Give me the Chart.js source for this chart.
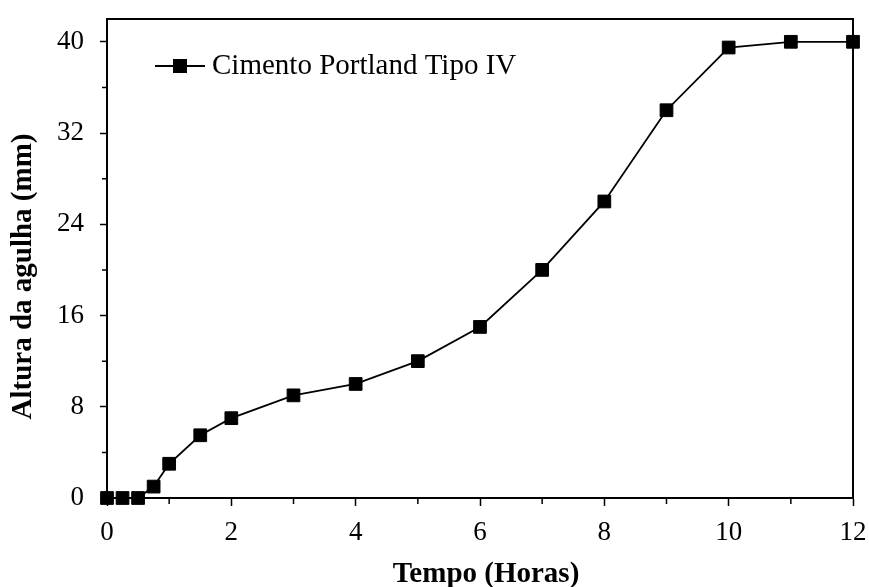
<!DOCTYPE html>
<html>
<head>
<meta charset="utf-8">
<script src="https://cdn.jsdelivr.net/npm/chart.js@4/dist/chart.umd.min.js"></script>
<style>
  html, body { margin: 0; padding: 0; background: #ffffff; }
  #wrap { width: 869px; height: 587px; }
</style>
</head>
<body>
<div id="wrap"><canvas id="chart" width="869" height="587"></canvas></div>
<script>
// Setting-time test: needle penetration height over time
const hours = [0, 0.25, 0.5, 0.75, 1, 1.5, 2, 3, 4, 5, 6, 7, 8, 9, 10, 11, 12];
const needleHeight = [0, 0, 0, 1, 3, 5.5, 7, 9, 10, 12, 15, 20, 26, 34, 39.5, 40, 40];
const xTickValues = [0, 2, 4, 6, 8, 10, 12];
const yTickValues = [0, 8, 16, 24, 32, 40];
const seriesName = 'Cimento Portland Tipo IV';
const xTitle = 'Tempo (Horas)';
const yTitle = 'Altura da agulha (mm)';

const SERIF = "'Liberation Serif', 'Times New Roman', Times, serif";
const INK = '#000000';

const points = hours.map((h, i) => ({ x: h, y: needleHeight[i] }));

// midpoints between labelled ticks get short unlabelled tick marks
function midpoints(vals) {
  const out = [];
  for (let i = 0; i < vals.length - 1; i++) out.push((vals[i] + vals[i + 1]) / 2);
  return out;
}

// fixed axis sizes so the plot box keeps its place
function pinAxis(size, horizontal) {
  return s => {
    if (horizontal) s.height = size; else s.width = size;
    s.paddingTop = 0; s.paddingBottom = 0; s.paddingLeft = 0; s.paddingRight = 0;
  };
}

const framePlugin = {
  id: 'frame',
  beforeDatasetsDraw(chart) {
    const { ctx, chartArea: a, scales } = chart;
    ctx.save();
    ctx.strokeStyle = INK;
    ctx.lineWidth = 2;
    ctx.beginPath();
    ctx.moveTo(a.left, a.top);
    ctx.lineTo(a.right, a.top);
    ctx.lineTo(a.right, a.bottom);
    ctx.stroke();
    // minor tick marks
    ctx.lineWidth = 1.5;
    ctx.beginPath();
    midpoints(xTickValues).forEach(v => {
      const px = scales.x.getPixelForValue(v);
      ctx.moveTo(px, a.bottom);
      ctx.lineTo(px, a.bottom + 6);
    });
    midpoints(yTickValues).forEach(v => {
      const py = scales.y.getPixelForValue(v);
      ctx.moveTo(a.left, py);
      ctx.lineTo(a.left - 5, py);
    });
    ctx.stroke();
    ctx.restore();
  },
  afterDraw(chart) {
    const { ctx, chartArea: a } = chart;
    ctx.save();
    // legend entry inside the plot
    const ly = a.top + 47;
    const lx = a.left + 48;
    ctx.strokeStyle = INK;
    ctx.lineWidth = 1.8;
    ctx.beginPath();
    ctx.moveTo(lx, ly);
    ctx.lineTo(lx + 50, ly);
    ctx.stroke();
    ctx.fillStyle = INK;
    Chart.helpers.drawPoint(ctx, { pointStyle: 'rect', radius: 8.5, borderWidth: 1, rotation: 0 }, lx + 25, ly);
    ctx.fill();
    ctx.stroke();
    ctx.font = '29px ' + SERIF;
    ctx.textAlign = 'left';
    ctx.textBaseline = 'middle';
    ctx.fillText(seriesName, lx + 57, ly);

    // axis titles
    ctx.font = 'bold 29px ' + SERIF;
    ctx.textAlign = 'center';
    ctx.textBaseline = 'middle';
    ctx.fillText(xTitle, (a.left + a.right) / 2 + 6, 575);
    ctx.translate(23.5, (a.top + a.bottom) / 2 + 18);
    ctx.rotate(-Math.PI / 2);
    ctx.fillText(yTitle, 0, 0);
    ctx.restore();
  }
};

new Chart(document.getElementById('chart'), {
  type: 'line',
  data: {
    datasets: [{
      label: seriesName,
      data: points,
      borderColor: INK,
      borderWidth: 1.8,
      backgroundColor: INK,
      pointStyle: 'rect',
      pointRadius: 9,
      pointHoverRadius: 9,
      pointBorderWidth: 1,
      pointBackgroundColor: INK,
      pointBorderColor: INK,
      tension: 0,
      fill: false,
      clip: false
    }]
  },
  options: {
    responsive: false,
    animation: false,
    devicePixelRatio: 1,
    layout: { padding: { left: 0, right: 16, top: 19, bottom: 0 } },
    plugins: {
      legend: { display: false },
      tooltip: { enabled: false }
    },
    scales: {
      x: {
        type: 'linear',
        min: 0,
        max: 12,
        bounds: 'data',
        afterBuildTicks: s => { s.ticks = xTickValues.map(v => ({ value: v })); },
        afterFit: pinAxis(89, true),
        ticks: {
          font: { family: SERIF, size: 27 },
          color: INK,
          padding: 11,
          maxRotation: 0,
          autoSkip: false
        },
        grid: { display: true, drawOnChartArea: false, tickLength: 8, tickWidth: 1.5, tickColor: INK },
        border: { display: true, color: INK, width: 2 }
      },
      y: {
        type: 'linear',
        min: 0,
        max: 42,
        bounds: 'data',
        afterBuildTicks: s => { s.ticks = yTickValues.map(v => ({ value: v })); },
        afterFit: pinAxis(107, false),
        ticks: {
          font: { family: SERIF, size: 27 },
          color: INK,
          padding: 16,
          autoSkip: false
        },
        grid: { display: true, drawOnChartArea: false, tickLength: 7, tickWidth: 1.5, tickColor: INK },
        border: { display: true, color: INK, width: 2 }
      }
    }
  },
  plugins: [framePlugin]
});
</script>
</body>
</html>
